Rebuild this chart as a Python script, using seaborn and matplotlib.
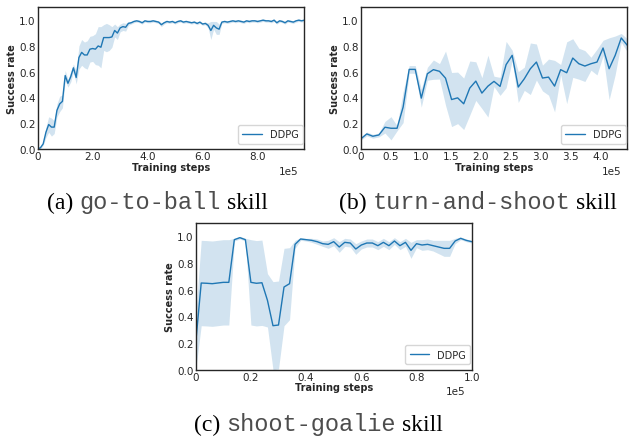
import numpy as np
import pandas as pd
import seaborn as sns
import matplotlib
matplotlib.use("Agg")
import matplotlib.pyplot as plt
from matplotlib.ticker import FuncFormatter, MultipleLocator
from matplotlib.transforms import IdentityTransform

# ---------------- data ----------------
# (a) go-to-ball, evaluated every 1e4 steps
a_steps = np.arange(98) * 1e4
a_mean = [0.00, 0.01, 0.04, 0.13, 0.19, 0.17, 0.17, 0.30, 0.35, 0.37,
          0.57, 0.51, 0.56, 0.63, 0.555, 0.71, 0.75, 0.73, 0.73, 0.775,
          0.78, 0.775, 0.80, 0.79, 0.865, 0.865, 0.865, 0.87, 0.92, 0.90,
          0.94, 0.95, 0.945, 0.975, 0.98, 0.99, 0.995, 0.99, 0.98, 0.995,
          0.99, 0.99, 0.995, 0.99, 0.985, 0.965, 0.98, 0.99, 0.985, 0.99,
          0.98, 0.99, 0.995, 0.985, 0.99, 0.985, 0.98, 0.985, 0.975, 0.985,
          0.97, 0.975, 0.96, 0.92, 0.96, 0.94, 0.93, 0.985, 0.99, 0.985,
          0.99, 0.995, 0.99, 0.995, 0.99, 0.985, 0.995, 0.99, 0.995, 0.995,
          0.99, 0.995, 1.00, 0.995, 0.995, 0.99, 1.00, 0.98, 0.995, 0.99,
          0.98, 0.995, 0.99, 0.985, 0.995, 1.00, 0.995, 1.00]
a_std = [0.01, 0.01, 0.01, 0.04, 0.06, 0.07, 0.05, 0.05, 0.06, 0.05,
         0.04, 0.03, 0.04, 0.03, 0.05, 0.09, 0.10, 0.10, 0.11, 0.10,
         0.10, 0.12, 0.15, 0.16, 0.10, 0.11, 0.10, 0.08, 0.05, 0.05,
         0.03, 0.03, 0.03, 0.015, 0.01, 0.01, 0.01, 0.01, 0.01, 0.01,
         0.01, 0.01, 0.01, 0.01, 0.01, 0.015, 0.01, 0.01, 0.01, 0.01,
         0.01, 0.01, 0.01, 0.01, 0.01, 0.01, 0.01, 0.01, 0.01, 0.01,
         0.01, 0.01, 0.02, 0.07, 0.03, 0.05, 0.04, 0.01, 0.01, 0.01,
         0.01, 0.01, 0.01, 0.01, 0.01, 0.01, 0.01, 0.01, 0.01, 0.01,
         0.01, 0.01, 0.01, 0.01, 0.01, 0.01, 0.01, 0.01, 0.01, 0.01,
         0.01, 0.01, 0.01, 0.01, 0.01, 0.01, 0.01, 0.01]

# (b) turn-and-shoot
b_steps = np.linspace(0, 4.44e5, 45)
b_mean = [0.078, 0.117, 0.099, 0.109, 0.169, 0.161, 0.161, 0.325, 0.618, 0.618,
          0.395, 0.584, 0.616, 0.603, 0.55, 0.384, 0.397, 0.351, 0.473, 0.527,
          0.434, 0.488, 0.525, 0.486, 0.655, 0.727, 0.481, 0.545, 0.623, 0.675,
          0.551, 0.558, 0.488, 0.616, 0.592, 0.706, 0.662, 0.644, 0.662, 0.675,
          0.784, 0.623, 0.727, 0.862, 0.805]
b_std = [0.01, 0.015, 0.015, 0.015, 0.045, 0.09, 0.02, 0.12, 0.03, 0.03,
         0.07, 0.05, 0.075, 0.06, 0.21, 0.21, 0.20, 0.20, 0.21, 0.15,
         0.12, 0.24, 0.04, 0.07, 0.18, 0.04, 0.12, 0.09, 0.20, 0.14,
         0.10, 0.14, 0.20, 0.04, 0.24, 0.15, 0.12, 0.12, 0.05, 0.10,
         0.06, 0.24, 0.15, 0.035, 0.05]

# (c) shoot-goalie
c_steps = np.arange(51) * 2e3
c_mean = [0.20, 0.65, 0.648, 0.645, 0.65, 0.655, 0.655, 0.975, 0.99, 0.975,
          0.655, 0.648, 0.652, 0.52, 0.33, 0.335, 0.62, 0.645, 0.94, 0.98,
          0.975, 0.97, 0.96, 0.945, 0.94, 0.96, 0.92, 0.955, 0.95, 0.905,
          0.935, 0.95, 0.95, 0.93, 0.955, 0.93, 0.965, 0.93, 0.955, 0.895,
          0.945, 0.935, 0.94, 0.93, 0.92, 0.91, 0.91, 0.965, 0.985, 0.97,
          0.96]
c_std = [0.20, 0.32, 0.32, 0.32, 0.32, 0.32, 0.32, 0.01, 0.01, 0.01,
         0.32, 0.32, 0.32, 0.20, 0.33, 0.33, 0.29, 0.27, 0.03, 0.01,
         0.01, 0.015, 0.02, 0.02, 0.03, 0.03, 0.04, 0.03, 0.03, 0.04,
         0.03, 0.03, 0.03, 0.03, 0.03, 0.03, 0.025, 0.03, 0.03, 0.06,
         0.03, 0.04, 0.04, 0.04, 0.05, 0.06, 0.06, 0.02, 0.01, 0.01,
         0.01]

panels = [
    dict(steps=a_steps, mean=a_mean, std=a_std, xmax=9.7e5, xstep=2e5,
         cap=("(a)", "go-to-ball", "skill")),
    dict(steps=b_steps, mean=b_mean, std=b_std, xmax=4.44e5, xstep=0.5e5,
         cap=("(b)", "turn-and-shoot", "skill")),
    dict(steps=c_steps, mean=c_mean, std=c_std, xmax=1.0e5, xstep=0.2e5,
         cap=("(c)", "shoot-goalie", "skill")),
]
series_label = "DDPG"

# ---------------- style ----------------
sns.set_style("white")
plt.rcParams["font.family"] = ["DejaVu Sans"]
plt.rcParams["font.size"] = 7.5
plt.rcParams["axes.edgecolor"] = "0.15"

W, H = 634, 439
fig = plt.figure(figsize=(W / 100, H / 100), dpi=100)

# axes boxes in pixels: left, top, right, bottom
boxes = [(37.7, 8.3, 304.3, 150.0),
         (360.7, 8.3, 627.3, 150.0),
         (195.7, 224.0, 471.7, 370.7)]
blue = "#1f77b4"


def fmt(v, pos):
    if abs(v) < 1e-9:
        return "0"
    return f"{v / 1e5:.1f}"


for p, (l, t, r, b) in zip(panels, boxes):
    ax = fig.add_axes([l / W, 1 - b / H, (r - l) / W, (b - t) / H])
    df = pd.DataFrame({"steps": p["steps"], "rate": p["mean"]})
    mean = np.array(p["mean"])
    std = np.array(p["std"])
    ax.fill_between(p["steps"], np.clip(mean - std, 0, None), mean + std,
                    color=blue, alpha=0.2, linewidth=0)
    sns.lineplot(data=df, x="steps", y="rate", ax=ax, color=blue,
                 linewidth=1.0, label=series_label)
    ax.set_xlim(0, p["xmax"])
    ax.set_ylim(0, 1.1)
    ax.xaxis.set_major_locator(MultipleLocator(p["xstep"]))
    ax.xaxis.set_major_formatter(FuncFormatter(fmt))
    ax.yaxis.set_major_locator(MultipleLocator(0.2))
    ax.yaxis.set_major_formatter(FuncFormatter(lambda v, pos: f"{v:.1f}"))
    ax.tick_params(axis="both", labelsize=7.5, pad=1.5, length=0)
    ax.set_xlabel("Training steps", fontsize=7, fontweight="bold", labelpad=0.5)
    ax.set_ylabel("Success rate", fontsize=7, fontweight="bold", labelpad=1.5)
    ax.annotate("1e5", xy=(1, 0), xycoords="axes fraction",
                xytext=(-4.5, -12), textcoords="offset points",
                ha="right", va="top", fontsize=7.5, color="0.15")
    wpx, hpx = r - l, b - t
    leg = ax.legend(loc="lower right", fontsize=7, frameon=True,
                    bbox_to_anchor=(1 - 1.5 / wpx, 5.5 / hpx),
                    borderaxespad=0, handlelength=2.0, borderpad=0.45)
    leg.get_frame().set_edgecolor("0.8")
    for s in ax.spines.values():
        s.set_linewidth(1.0)

# ---------------- captions ----------------
renderer = fig.canvas.get_renderer()
cap_size = 17
cap_pos = [(157.5, 203), (478, 203), (318.5, 425)]
for p, (xc, yc) in zip(panels, cap_pos):
    parts = [(p["cap"][0], "Liberation Serif", "black"),
             (p["cap"][1], "Liberation Mono", "0.3"),
             (p["cap"][2], "Liberation Serif", "black")]
    gap = 0.25 * cap_size * 100 / 72
    texts, widths = [], []
    for s, fam, col in parts:
        tx = fig.text(0, 0, s, family=fam, fontsize=cap_size, ha="left",
                      va="baseline", transform=IdentityTransform(), color=col)
        texts.append(tx)
        widths.append(tx.get_window_extent(renderer).width)
    total = sum(widths) + gap * (len(parts) - 1)
    x = xc - total / 2
    base = H - (yc + 6)
    for tx, w in zip(texts, widths):
        tx.set_position((x, base))
        x += w + gap

fig.savefig("out.png", dpi=100)
